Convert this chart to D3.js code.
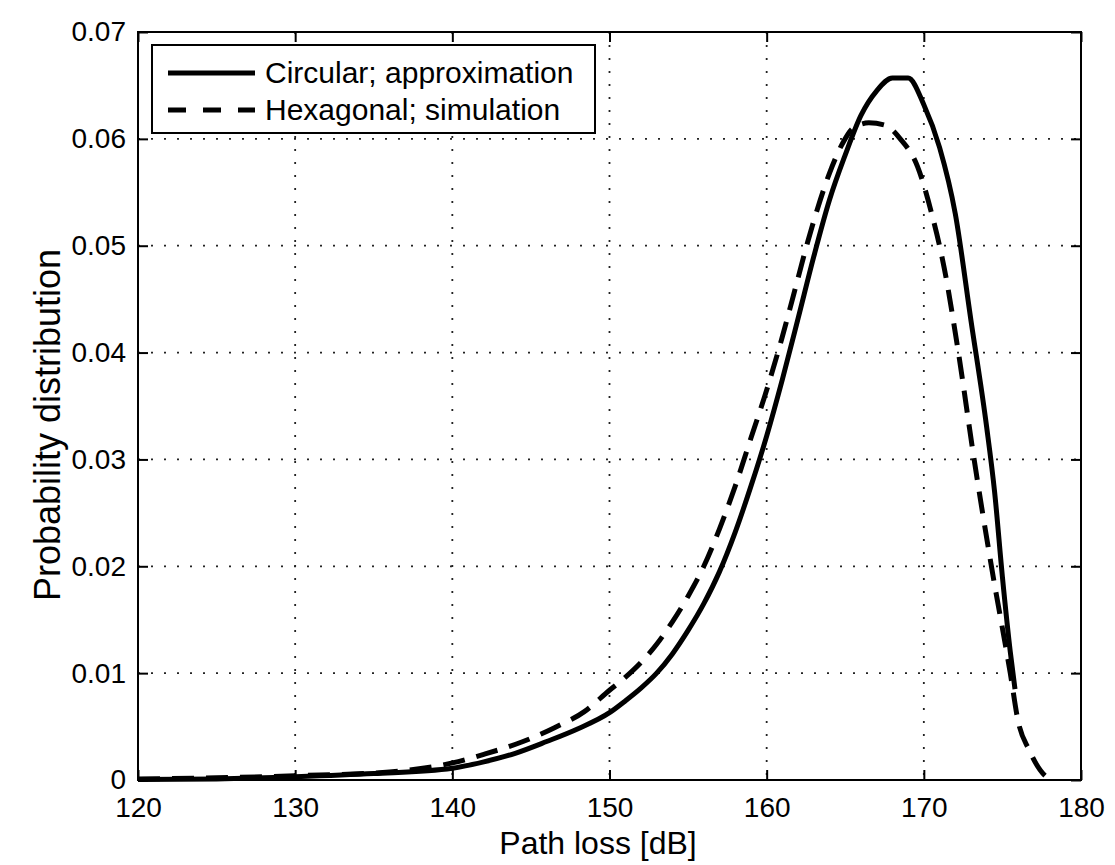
<!DOCTYPE html>
<html>
<head>
<meta charset="utf-8">
<script src="https://cdn.jsdelivr.net/npm/d3@7"></script>
<style>
  body { margin: 0; background: #fff; }
  text { font-family: "Liberation Sans", Arial, sans-serif; fill: #000; }
</style>
</head>
<body>
<div class="canvas"></div>
<script>
// values
const circX = [120, 125, 130, 135, 140, 142, 144, 146, 148, 150, 151, 152, 153, 154, 155, 156, 157, 158, 159, 160, 161, 162, 163, 164, 165, 166, 167, 168, 169, 170, 171, 172, 173, 174, 174.5, 175, 175.5, 175.8];
const circY = [0.00005, 0.0001, 0.0003, 0.0006, 0.0011, 0.0017, 0.0025, 0.0036, 0.0048, 0.0063, 0.0074, 0.0086, 0.01, 0.0118, 0.014, 0.0165, 0.0195, 0.0232, 0.0275, 0.0322, 0.0375, 0.0432, 0.049, 0.0543, 0.0585, 0.0622, 0.0645, 0.0657, 0.0657, 0.0632, 0.0592, 0.053, 0.043, 0.033, 0.027, 0.019, 0.012, 0.0085];

const hexX = [120, 125, 130, 136, 140, 142, 144.5, 146.5, 148.4, 150, 151, 152, 153, 154, 155, 156, 157, 158, 159, 160, 161, 162, 162.6, 163.2, 164, 164.8, 165.5, 166.5, 167.5, 168.5, 169.6, 170.5, 171.3, 172.2, 173.2, 174.3, 175.5, 176, 176.7, 177.8, 178.3];
const hexY = [0.0001, 0.0002, 0.0004, 0.00075, 0.0016, 0.0024, 0.0036, 0.0049, 0.0064, 0.0084, 0.0096, 0.011, 0.0127, 0.0148, 0.0172, 0.02, 0.0235, 0.0275, 0.032, 0.0365, 0.0415, 0.047, 0.0503, 0.0533, 0.0568, 0.0595, 0.061, 0.0615, 0.0613, 0.06, 0.0574, 0.053, 0.0479, 0.04, 0.03, 0.02, 0.01, 0.0055, 0.0028, 0.0003, 0];

const xTicks = [120, 130, 140, 150, 160, 170, 180];
const yTicks = [0, 0.01, 0.02, 0.03, 0.04, 0.05, 0.06, 0.07];
const seriesNames = ["Circular; approximation", "Hexagonal; simulation"];

const svgWidth = 1115, svgHeight = 865;
const margin = { top: 32, right: 34, bottom: 85, left: 138 };
const width = svgWidth - margin.left - margin.right;
const height = svgHeight - margin.top - margin.bottom;

const svg = d3.select(".canvas").append("svg")
  .attr("width", svgWidth)
  .attr("height", svgHeight);

const g = svg.append("g")
  .attr("transform", `translate(${margin.left},${margin.top})`);

const xScale = d3.scaleLinear().domain([120, 180]).range([0, width]);
const yScale = d3.scaleLinear().domain([0, 0.07]).range([height, 0]);

// dotted grid
g.append("g")
  .selectAll("line")
  .data(xTicks.slice(1, -1))
  .join("line")
  .attr("x1", d => xScale(d)).attr("x2", d => xScale(d))
  .attr("y1", 0).attr("y2", height)
  .attr("stroke", "#222").attr("stroke-width", 1.8)
  .attr("stroke-dasharray", "2,11");

g.append("g")
  .selectAll("line")
  .data(yTicks.slice(1, -1))
  .join("line")
  .attr("x1", 0).attr("x2", width)
  .attr("y1", d => yScale(d)).attr("y2", d => yScale(d))
  .attr("stroke", "#222").attr("stroke-width", 1.8)
  .attr("stroke-dasharray", "2,11");

// curves
const line = d3.line()
  .x(d => xScale(d[0]))
  .y(d => yScale(d[1]))
  .curve(d3.curveMonotoneX);

g.append("path")
  .datum(d3.zip(hexX, hexY))
  .attr("d", line)
  .attr("fill", "none")
  .attr("stroke", "#000")
  .attr("stroke-width", 5)
  .attr("stroke-dasharray", "22,12");

g.append("path")
  .datum(d3.zip(circX, circY))
  .attr("d", line)
  .attr("fill", "none")
  .attr("stroke", "#000")
  .attr("stroke-width", 5)
  .attr("stroke-linejoin", "round");

// axes, ticks inside on all four sides
const xAxis = d3.axisBottom(xScale).tickValues(xTicks).tickSize(-10).tickPadding(17).tickFormat(d3.format("d"));
const yAxis = d3.axisLeft(yScale).tickValues(yTicks).tickSize(-10).tickPadding(12).tickFormat(d => d === 0 ? "0" : d3.format(".2f")(d));

const gx = g.append("g").attr("transform", `translate(0,${height})`).call(xAxis);
const gy = g.append("g").call(yAxis);
g.append("g").call(d3.axisTop(xScale).tickValues(xTicks).tickSize(-10).tickFormat(""));
g.append("g").attr("transform", `translate(${width},0)`).call(d3.axisRight(yScale).tickValues(yTicks).tickSize(-10).tickFormat(""));

g.selectAll(".domain").remove();
g.selectAll(".tick line").attr("stroke", "#000").attr("stroke-width", 2);
gx.selectAll("text").attr("font-size", 28).attr("dy", "0.71em");
gy.selectAll("text").attr("font-size", 28);
gy.selectAll(".tick").filter(d => d === 0).select("text").attr("dy", "0.3em");

g.append("rect")
  .attr("width", width).attr("height", height)
  .attr("fill", "none").attr("stroke", "#000").attr("stroke-width", 2);

// axis labels
svg.append("text")
  .attr("x", 598)
  .attr("y", 854)
  .attr("text-anchor", "middle")
  .attr("font-size", 32)
  .text("Path loss [dB]");

svg.append("text")
  .attr("transform", "translate(60,425) rotate(-90)")
  .attr("text-anchor", "middle")
  .attr("font-size", 36)
  .text("Probability distribution");

// legend
const legend = svg.append("g").attr("transform", "translate(152,45)");
legend.append("rect")
  .attr("width", 443).attr("height", 88)
  .attr("fill", "#fff").attr("stroke", "#000").attr("stroke-width", 2);

const items = legend.selectAll(".item")
  .data(seriesNames)
  .join("g")
  .attr("class", "item")
  .attr("transform", (d, i) => `translate(0,${28 + i * 37})`);

items.append("line")
  .attr("x1", 16).attr("x2", 103)
  .attr("stroke", "#000").attr("stroke-width", 5)
  .attr("stroke-dasharray", (d, i) => i === 1 ? "18,17" : null);

items.append("text")
  .attr("x", 113)
  .attr("y", 10)
  .attr("font-size", 30)
  .text(d => d);
</script>
</body>
</html>
